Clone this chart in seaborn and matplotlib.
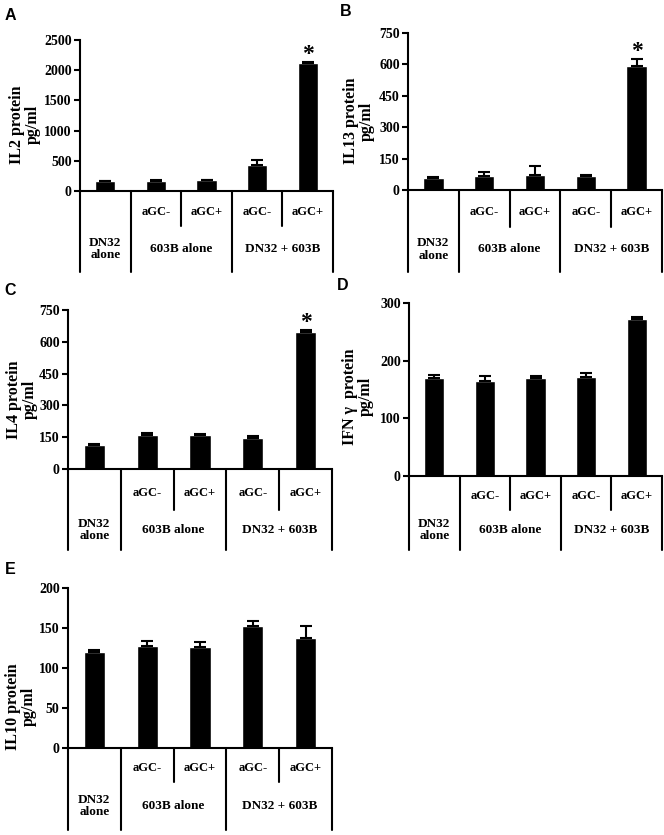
import matplotlib
matplotlib.use("Agg")
import matplotlib.pyplot as plt
import seaborn as sns

# data
groups = ["DN32 alone", "603B aGC-", "603B aGC+", "DN32+603B aGC-", "DN32+603B aGC+"]
top_row = ["", "aGC-", "aGC+", "aGC-", "aGC+"]
bottom_row = ["DN32\nalone", "603B alone", "DN32 + 603B"]

il2 = [160, 165, 175, 430, 2125]
il2_err = [5, 15, 8, 90, 10]
il13 = [55, 65, 72, 65, 592]
il13_err = [5, 20, 42, 8, 35]
il4 = [112, 160, 160, 148, 648]
il4_err = [4, 10, 5, 10, 6]
ifng = [170, 165, 170, 172, 272]
ifng_err = [6, 9, 4, 6, 4]
il10 = [120, 128, 126, 153, 138]
il10_err = [2, 6, 6, 6, 14]

panels = [
    # letter, ylabel, values, errors, ymax, ystep, star,
    # pixel box (x0, x1, ytop, yzero, row1, bottom), letter pos, ylabel coords
    ("A", "IL2 protein\npg/ml", il2, il2_err, 2500, 500, True,
     (80, 333, 40, 191, 226, 272), (10, 15), (-0.154, 0.44)),
    ("B", "IL13 protein\npg/ml", il13, il13_err, 750, 150, True,
     (408, 662, 33, 190, 227, 272), (346, 12), (-0.13, 0.44)),
    ("C", "IL4 protein\npg/ml", il4, il4_err, 750, 150, True,
     (68, 332, 310, 469, 510, 550), (10, 290), (-0.114, 0.437)),
    ("D", "IFN γ  protein\npg/ml", ifng, ifng_err, 300, 100, False,
     (409, 662, 303, 476, 510, 550), (343, 286), (-0.138, 0.46)),
    ("E", "IL10 protein\npg/ml", il10, il10_err, 200, 50, False,
     (68, 332, 588, 748, 782, 830), (10, 570), (-0.117, 0.26)),
]

sns.set_style("ticks")
plt.rcParams['font.family'] = ['Liberation Serif', 'DejaVu Serif']
plt.rcParams['font.weight'] = 'bold'
for k in ['text.color', 'axes.labelcolor', 'xtick.color', 'ytick.color', 'axes.edgecolor']:
    plt.rcParams[k] = 'black'

W, H = 664, 835
fig = plt.figure(figsize=(W / 100, H / 100), dpi=100)

for letter, ylab, vals, errs, ymax, ystep, star, box, lpos, lcoord in panels:
    x0, x1, ytop, yzero, row1, bot = box
    ax = fig.add_axes([x0 / W, 1 - yzero / H, (x1 - x0) / W, (yzero - ytop) / H])
    sns.barplot(x=groups, y=vals, color="black", saturation=1, width=0.4,
                errorbar=None, ax=ax)
    ax.errorbar(range(len(vals)), vals, yerr=[[0] * len(errs), errs], fmt="none",
                ecolor="black", elinewidth=1.5, capsize=4, capthick=1.5)
    if star:
        ax.annotate("*", (4, vals[4] + errs[4]), xytext=(0, -2), textcoords="offset points",
                    ha="center", va="bottom", fontsize=17, fontweight="bold")
    ax.set_xlim(-0.5, 4.5)
    ax.set_ylim(0, ymax)
    ax.set_yticks(range(0, ymax + 1, ystep))
    ax.set_xticks([])
    ax.set_xlabel("")
    ax.set_ylabel(ylab, fontsize=11.5, fontweight="bold", linespacing=1.0)
    ax.yaxis.set_label_coords(*lcoord)
    ax.tick_params(axis="y", labelsize=10, length=4, width=1.5, pad=2)
    sns.despine(ax=ax)
    for s in ["left", "bottom"]:
        ax.spines[s].set_linewidth(1.5)
    for t in ax.get_yticklabels():
        t.set_fontweight("bold")

    # category table under the axis
    h = yzero - ytop
    f_row1 = -(row1 - yzero) / h
    f_bot = -(bot - yzero) / h
    trans = ax.get_xaxis_transform()
    for xb in [-0.5, 0.5, 2.5, 4.5]:
        ax.plot([xb, xb], [0, f_bot], color="black", lw=1.5, transform=trans, clip_on=False)
    for xb in [1.5, 3.5]:
        ax.plot([xb, xb], [0, f_row1], color="black", lw=1.5, transform=trans, clip_on=False)
    ymid1 = (0 + f_row1) / 2 - 0.02
    for i, lab in enumerate(top_row):
        if lab:
            ax.text(i, ymid1, lab, transform=trans, ha="center", va="center",
                    fontsize=9, fontweight="bold")
    ymid2 = (f_row1 + f_bot) / 2
    for xc, lab in zip([0, 1.5, 3.5], bottom_row):
        ax.text(xc, ymid2, lab, transform=trans, ha="center", va="center",
                fontsize=9.5, fontweight="bold", linespacing=1.1)

    fig.text(lpos[0] / W, 1 - lpos[1] / H, letter, family="Liberation Sans",
             fontsize=11.5, fontweight="bold", ha="center", va="center")

fig.savefig("out.png", dpi=100, facecolor="white")
